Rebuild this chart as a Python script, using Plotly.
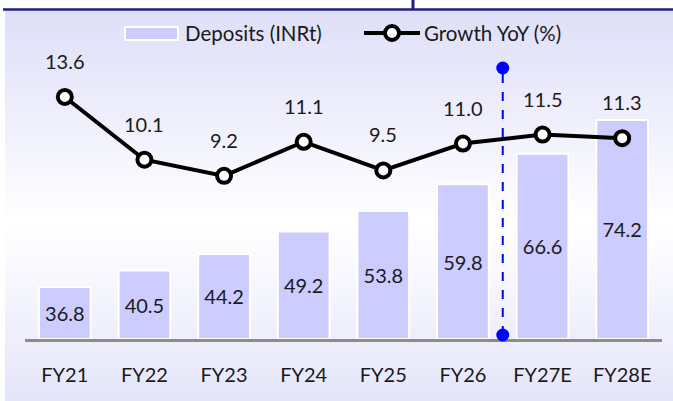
import plotly.graph_objects as go

# ---- data ----
categories = ["FY21", "FY22", "FY23", "FY24", "FY25", "FY26", "FY27E", "FY28E"]
deposits = [36.8, 40.5, 44.2, 49.2, 53.8, 59.8, 66.6, 74.2]
growth = [13.6, 10.1, 9.2, 11.1, 9.5, 11.0, 11.5, 11.3]
bar_name = "Deposits (INRt)"
line_name = "Growth YoY (%)"

W, H = 673, 401
ML, MR, MT, MB = 25, 11, 10, 62
PW, PH = W - ML - MR, H - MT - MB
FONT = "Lato"
TXT = "#1a1a1a"
BAR = "#CCCCFF"
Y1_MIN, Y1_MAX = 25.15, 98.8


def px2x(px):
    return (px - ML) / PW


def px2y(py):
    return (H - MB - py) / PH


fig = go.Figure()
fig.add_trace(go.Bar(
    x=categories, y=[v - Y1_MIN for v in deposits], base=Y1_MIN, name=bar_name,
    marker=dict(color=BAR, line=dict(color="white", width=2)),
    width=0.65,
    text=[f"{v:.1f}" for v in deposits], textposition="inside",
    insidetextanchor="middle", textangle=0,
    textfont=dict(family=FONT, size=20, color=TXT),
    showlegend=False,
))
fig.add_trace(go.Scatter(
    x=categories, y=growth, name=line_name, yaxis="y2",
    mode="lines+markers",
    line=dict(color="black", width=4),
    marker=dict(size=14, color="white", line=dict(color="black", width=4)),
    showlegend=False,
))

# line value labels
annotations = []
for c, g in zip(categories, growth):
    annotations.append(dict(
        x=c, y=g, xref="x", yref="y2", text=f"{g:.1f}", showarrow=False,
        yshift=36, yanchor="middle",
        font=dict(family=FONT, size=20, color=TXT)))

# custom legend texts
annotations.append(dict(x=px2x(183), y=px2y(33), xref="paper", yref="paper",
                        text=bar_name, showarrow=False, xanchor="left", yanchor="middle",
                        font=dict(family=FONT, size=20.5, color=TXT)))
annotations.append(dict(x=px2x(422), y=px2y(33), xref="paper", yref="paper",
                        text=line_name, showarrow=False, xanchor="left", yanchor="middle",
                        font=dict(family=FONT, size=20.5, color=TXT)))

shapes = []
# gradient background panel
top_c = (223, 223, 249)
bot_c = (229, 229, 250)
y_top, y_white, y_bot = 11, 225, 401
n = 60
for i in range(n):
    a = y_top + (y_bot - y_top) * i / n
    b = y_top + (y_bot - y_top) * (i + 1) / n
    m = (a + b) / 2
    if m < y_white:
        t = (m - y_top) / (y_white - y_top)
        c = tuple(round(top_c[k] + (255 - top_c[k]) * t) for k in range(3))
    else:
        t = (m - y_white) / (y_bot - y_white)
        c = tuple(round(255 + (bot_c[k] - 255) * t) for k in range(3))
    shapes.append(dict(type="rect", xref="paper", yref="paper", layer="below",
                       x0=px2x(5), x1=px2x(W + 2), y0=px2y(b + 0.5), y1=px2y(a),
                       fillcolor=f"rgb{c}", line=dict(width=0)))
# top navy rule
shapes.append(dict(type="line", xref="paper", yref="paper",
                   x0=px2x(3), x1=px2x(W + 2), y0=px2y(9.5), y1=px2y(9.5),
                   line=dict(color="#1E1E82", width=2.5)))
shapes.append(dict(type="line", xref="paper", yref="paper",
                   x0=px2x(413), x1=px2x(413), y0=px2y(0), y1=px2y(9),
                   line=dict(color="#1E1E82", width=3)))
# forecast divider
shapes.append(dict(type="line", xref="x", yref="paper", x0=5.5, x1=5.5,
                   y0=px2y(335), y1=px2y(68),
                   line=dict(color="#0000FF", width=2, dash="dash")))
for py in (68, 335):
    shapes.append(dict(type="circle", xref="x", yref="paper",
                       xsizemode="pixel", ysizemode="pixel", xanchor=5.5, yanchor=px2y(py),
                       x0=-6.5, x1=6.5, y0=-6.5, y1=6.5,
                       fillcolor="#0000FF", line=dict(width=0)))
# legend symbols
shapes.append(dict(type="rect", xref="paper", yref="paper",
                   x0=px2x(125), x1=px2x(178), y0=px2y(40), y1=px2y(27),
                   fillcolor=BAR, line=dict(color="white", width=2)))
shapes.append(dict(type="line", xref="paper", yref="paper",
                   x0=px2x(364), x1=px2x(420), y0=px2y(33), y1=px2y(33),
                   line=dict(color="black", width=4)))
shapes.append(dict(type="circle", xref="paper", yref="paper",
                   xsizemode="pixel", ysizemode="pixel", xanchor=px2x(392), yanchor=px2y(33),
                   x0=-7, x1=7, y0=-7, y1=7,
                   fillcolor="white", line=dict(color="black", width=4)))

fig.update_layout(
    width=W, height=H,
    margin=dict(l=ML, r=MR, t=MT, b=MB),
    paper_bgcolor="white", plot_bgcolor="rgba(0,0,0,0)",
    showlegend=False,
    uniformtext=dict(minsize=20, mode="show"),
    xaxis=dict(range=[-0.5, 7.5], showgrid=False, zeroline=False,
               showline=True, linecolor="#8c8c8c", linewidth=2.5,
               ticks="outside", ticklen=16, tickcolor="rgba(0,0,0,0)",
               tickfont=dict(family=FONT, size=20, color=TXT), fixedrange=True),
    yaxis=dict(range=[Y1_MIN, Y1_MAX], visible=False, showgrid=False, zeroline=False),
    yaxis2=dict(range=[0.1, 18.45], overlaying="y", side="right", visible=False,
                showgrid=False, zeroline=False),
    shapes=shapes,
    annotations=annotations,
)

fig.write_html("out.html", config={"displayModeBar": False},
               post_script="document.body.style.margin='0';document.body.style.padding='0';")
